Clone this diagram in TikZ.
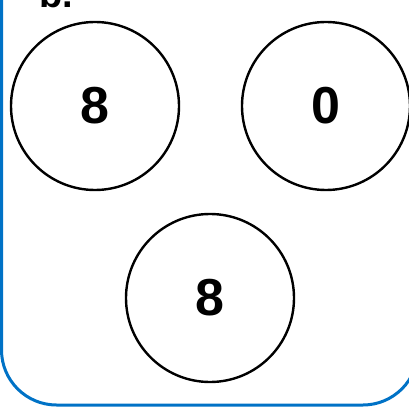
\documentclass[tikz,border=0pt]{standalone}
\usepackage{fontspec}
\setmainfont{Liberation Sans}
\usepackage{tikz}
\usetikzlibrary{positioning}
\definecolor{frameblue}{RGB}{0,114,198}

\begin{document}
\begin{tikzpicture}[x=1pt,y=1pt,semithick]
				\tikzstyle{ball}=[circle,draw=black,line width=2.4pt,minimum size=168pt,inner sep=0pt,
				                  font=\fontsize{52}{60}\selectfont\bfseries]
				\useasboundingbox (0,0) rectangle (409,407);

				\draw[frameblue,line width=3pt,rounded corners=55pt] (1.5,2) rectangle (418,470);
				\node[anchor=base west,font=\fontsize{38}{44}\selectfont\bfseries] (tag) at (36,399) {b.};

				\node[ball]		(L)	at (95,301)	{8};
				\node[ball]		(R)	at (326,301)	{0};
				\node[ball]		(B)	at (210,109)	{8};
\end{tikzpicture}
\end{document}
